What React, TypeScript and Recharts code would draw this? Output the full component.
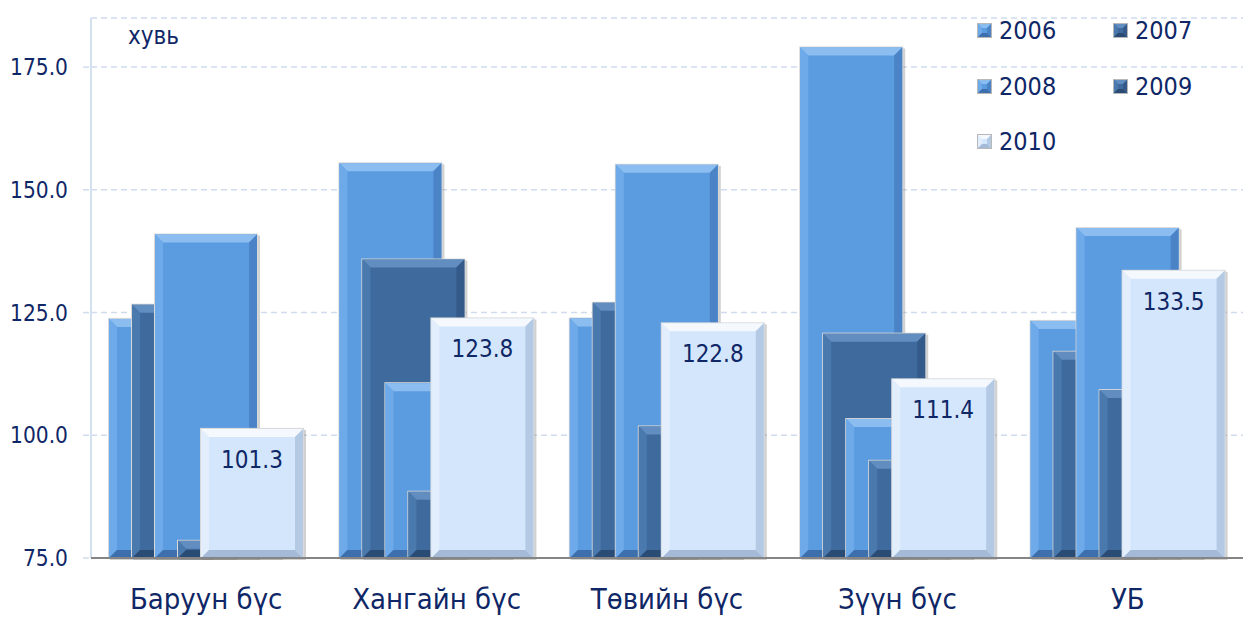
import React from 'react';
import { BarChart, Bar, XAxis, YAxis, CartesianGrid, Legend, LabelList } from 'recharts';

const categories = ['Баруун бүс', 'Хангайн бүс', 'Төвийн бүс', 'Зүүн бүс', 'УБ'];
const years = ['2006', '2007', '2008', '2009', '2010'];
const s2006 = [123.7, 155.4, 123.8, 179.0, 123.3];
const s2007 = [126.6, 135.8, 127.0, 120.7, 117.0];
const s2008 = [140.9, 110.6, 155.1, 103.3, 142.2];
const s2009 = [78.5, 88.5, 101.8, 94.8, 109.2];
const s2010 = [101.3, 123.8, 122.8, 111.4, 133.5];
const yTicks = [75, 100, 125, 150, 175];
const unitLabel = 'хувь';

const FONT = "'DejaVu Sans Condensed', 'DejaVu Sans', sans-serif";
const NAVY = '#0f2766';

const data = categories.map((c, i) => ({
  name: c,
  '2006': s2006[i],
  '2007': s2007[i],
  '2008': s2008[i],
  '2009': s2009[i],
  '2010': s2010[i],
}));

type Pal = { base: string; top: string; left: string; right: string; bottom: string };
const MID: Pal = { base: '#5b9be0', top: '#8bbdf1', left: '#6eaaea', right: '#4a84c6', bottom: '#3c6fab' };
const DARK: Pal = { base: '#3e6a9e', top: '#618dc0', left: '#4a79ad', right: '#335a88', bottom: '#2a4b74' };
const LIGHT: Pal = { base: '#d3e6fb', top: '#f5f9fe', left: '#e3eefc', right: '#b3c9e4', bottom: '#a4bad6' };
const palettes: Pal[] = [MID, DARK, MID, DARK, LIGHT];

const BevelBar = (props: any) => {
  const { x, y, width, height, pal } = props;
  if (width <= 0 || height <= 0) return null;
  const b = Math.min(8, width / 4, height / 2);
  const x2 = x + width;
  const y2 = y + height;
  return (
    <g>
      <rect x={x + 1} y={y + 1} width={width + 2} height={height + 1} fill="#7a7a7a" opacity={0.35} />
      <rect x={x - 1} y={y - 1} width={width + 2} height={height + 1} fill="#d9d9d9" />
      <rect x={x} y={y} width={width} height={height} fill={pal.base} />
      <polygon points={`${x},${y} ${x2},${y} ${x2 - b},${y + b} ${x + b},${y + b}`} fill={pal.top} />
      <polygon points={`${x},${y} ${x + b},${y + b} ${x + b},${y2 - b} ${x},${y2}`} fill={pal.left} />
      <polygon points={`${x2},${y} ${x2},${y2} ${x2 - b},${y2 - b} ${x2 - b},${y + b}`} fill={pal.right} />
      <polygon points={`${x},${y2} ${x + b},${y2 - b} ${x2 - b},${y2 - b} ${x2},${y2}`} fill={pal.bottom} />
    </g>
  );
};

const LegendIcon = ({ pal }: { pal: Pal }) => (
  <svg width={15} height={15} style={{ display: 'block' }}>
    <rect x={0} y={0} width={15} height={15} fill="#b8b8b8" />
    <rect x={1} y={1} width={13} height={13} fill={pal.base} />
    <polygon points="1,1 14,1 10,5 5,5" fill={pal.top} />
    <polygon points="1,1 5,5 5,10 1,14" fill={pal.left} />
    <polygon points="14,1 14,14 10,10 10,5" fill={pal.right} />
    <polygon points="1,14 5,10 10,10 14,14" fill={pal.bottom} />
  </svg>
);

const renderLegend = () => (
  <div style={{ display: 'grid', gridTemplateColumns: '136px 120px', gridAutoRows: '55.5px', fontFamily: FONT }}>
    {years.map((yr, i) => (
      <div key={yr} style={{ display: 'flex', alignItems: 'center', height: 55.5 }}>
        <LegendIcon pal={palettes[i]} />
        <span style={{ marginLeft: 7, fontSize: 25, color: NAVY }}>{yr}</span>
      </div>
    ))}
  </div>
);

const DataLabel = (props: any) => {
  const { x, y, width, value } = props;
  return (
    <text x={x + width / 2} y={y + 31} textAnchor="middle" dominantBaseline="central" fill={NAVY} fontSize={24} fontFamily={FONT}>
      {Number(value).toFixed(1)}
    </text>
  );
};

const YTick = (props: any) => {
  const { x, y, payload } = props;
  return (
    <text x={x} y={y} textAnchor="end" dominantBaseline="central" fill={NAVY} fontSize={22.5} fontFamily={FONT}>
      {Number(payload.value).toFixed(1)}
    </text>
  );
};

const XTick = (props: any) => {
  const { x, y, payload } = props;
  return (
    <text x={x} y={y} dy={21} textAnchor="middle" fill={NAVY} fontSize={29} fontFamily={FONT}>
      {payload.value}
    </text>
  );
};

export default function App() {
  return (
    <div style={{ position: 'absolute', left: 0, top: 0, width: 1243, height: 617, background: '#fff' }}>
      <BarChart
        width={1243}
        height={617}
        data={data}
        margin={{ top: 18, right: 0, bottom: 0, left: 0 }}
        barSize={102}
        barGap={-79}
      >
        <CartesianGrid vertical={false} stroke="#cfdcee" strokeDasharray="6 4" strokeWidth={1.5} />
        <YAxis
          width={91}
          domain={[75, 185]}
          ticks={yTicks}
          interval={0}
          axisLine={{ stroke: '#d3e0f0', strokeWidth: 2 }}
          tickLine={{ stroke: '#cfdcee', strokeDasharray: '6 4', strokeWidth: 1.5 }}
          tickSize={8}
          tickMargin={15}
          tick={<YTick />}
        />
        <XAxis
          dataKey="name"
          height={59}
          axisLine={{ stroke: '#858585', strokeWidth: 2 }}
          tickLine={false}
          tickSize={0}
          tickMargin={30}
          tick={<XTick />}
          interval={0}
        />
        <Legend
          layout="horizontal"
          verticalAlign="middle"
          align="center"
          content={renderLegend}
          wrapperStyle={{ position: 'absolute', left: 977, top: 3, width: 260 }}
        />
        {years.map((yr, i) => (
          <Bar
            key={yr}
            dataKey={yr}
            isAnimationActive={false}
            fill={palettes[i].base}
            shape={(p: any) => <BevelBar {...p} pal={palettes[i]} />}
          >
            {yr === '2010' ? <LabelList dataKey={yr} content={DataLabel} /> : null}
          </Bar>
        ))}
      </BarChart>
      <div style={{ position: 'absolute', left: 128, top: 24, fontFamily: FONT, fontSize: 24, color: NAVY, lineHeight: 1 }}>
        {unitLabel}
      </div>
    </div>
  );
}
